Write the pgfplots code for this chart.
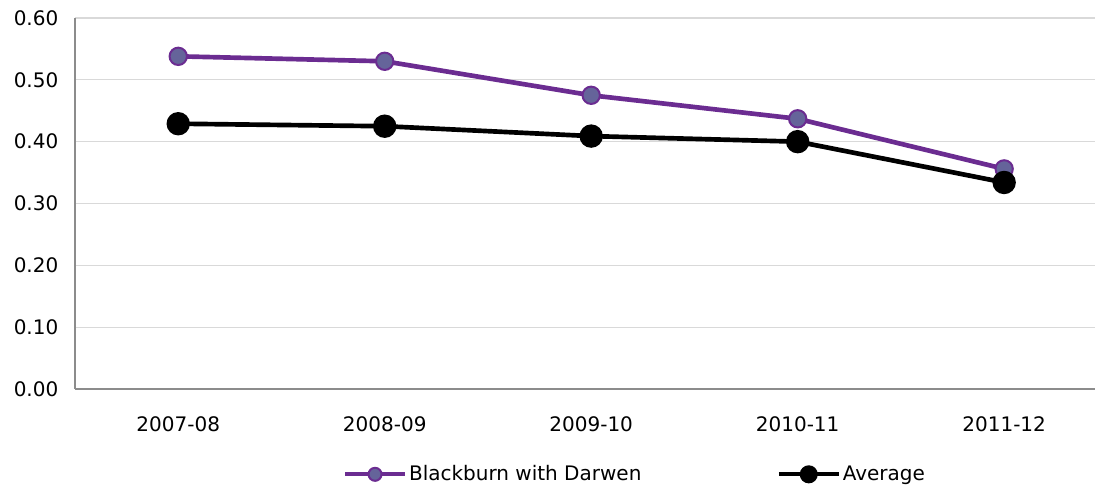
\documentclass[border=0pt]{standalone}
\usepackage{pgfplots}
\pgfplotsset{compat=1.18}
\usepackage{fontspec}
\setmainfont{DejaVu Sans}
\definecolor{bwline}{HTML}{6B2C91}
\definecolor{bwfill}{HTML}{65649A}
\definecolor{gridc}{HTML}{D9D9D9}
\definecolor{axc}{HTML}{8C8C8C}
\begin{document}
\begin{tikzpicture}[x=0.75pt,y=0.75pt]
\useasboundingbox (-75,-99) rectangle (1021,389);
\begin{axis}[
  at={(0,0)}, anchor=south west,
  scale only axis, width=765pt, height=278.25pt,
  xmin=-0.5, xmax=4.44, ymin=0, ymax=0.6,
  xtick={0,1,2,3,4},
  xticklabels={2007-08,2008-09,2009-10,2010-11,2011-12},
  ytick={0,0.1,0.2,0.3,0.4,0.5,0.6},
  yticklabel style={/pgf/number format/fixed, /pgf/number format/fixed zerofill, /pgf/number format/precision=2, xshift=-9pt},
  /pgf/number format/assume math mode=true,
  ymajorgrids, grid style={gridc, line width=0.8pt},
  axis x line*=bottom, axis y line*=left,
  axis line style={axc, line width=0.8pt, -},
  major tick length=0pt,
  tick label style={font=\fontsize{15}{17}\selectfont, text=black},
  xticklabel style={yshift=-17pt},
  legend style={draw=none, at={(0.549,-0.23)}, anchor=center, legend columns=2,
    font=\fontsize{15}{17}\selectfont, nodes={inner sep=1.5pt},
    /tikz/every even column/.append style={column sep=100pt}},
  legend image code/.code={
    \draw[#1, line width=3pt, mark repeat=2, mark phase=2, every mark/.append style={scale=0.75}] plot coordinates {(0pt,0pt) (22.5pt,0pt) (45pt,0pt)};},
  clip=false,
]
\addplot[bwline, line width=3.5pt, mark=*, mark size=6.5pt, mark options={fill=bwfill, draw=bwline, line width=1.5pt}]
  coordinates {(0,0.538) (1,0.530) (2,0.475) (3,0.437) (4,0.356)};
\addlegendentry{Blackburn with Darwen}
\addplot[black, line width=3.5pt, mark=*, mark size=7pt, mark options={fill=black}]
  coordinates {(0,0.429) (1,0.425) (2,0.409) (3,0.400) (4,0.334)};
\addlegendentry{Average}
\end{axis}
\end{tikzpicture}
\end{document}
